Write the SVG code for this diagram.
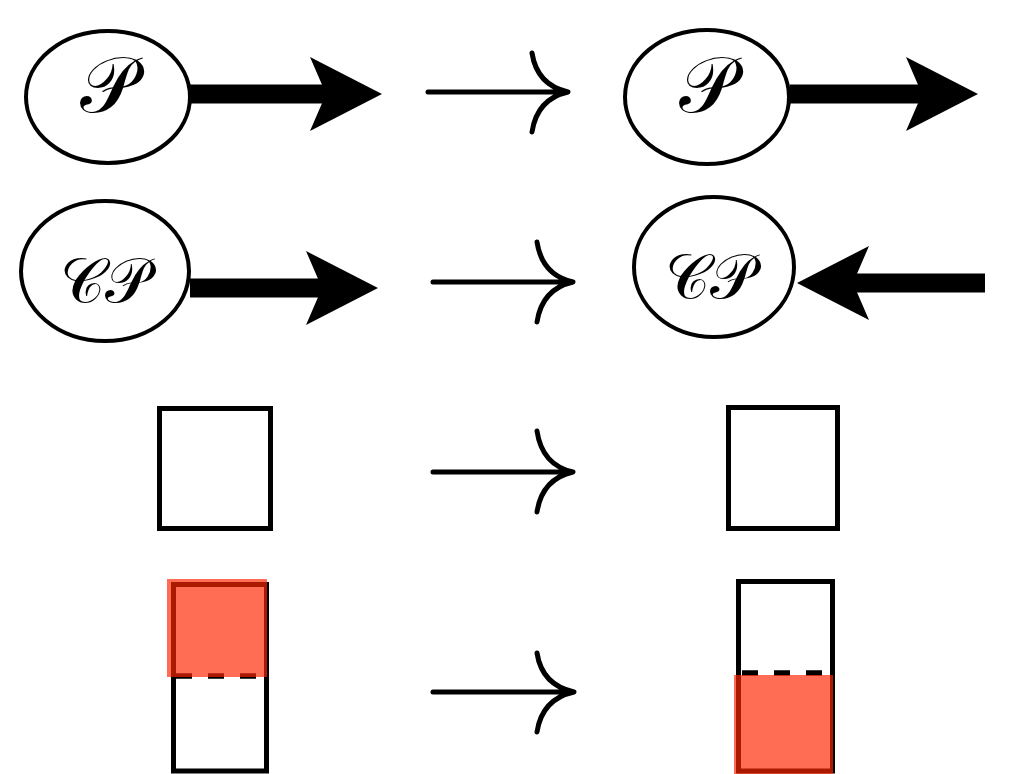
<svg xmlns="http://www.w3.org/2000/svg" width="1009" height="774" viewBox="0 0 1009 774">
<style>
.node{fill:#fff;stroke:#000;stroke-width:4}
.box{fill:#fff;stroke:#000;stroke-width:5}
.dash{fill:none;stroke:#000;stroke-width:5.5;stroke-dasharray:16 16}
.red{fill:#FF2600;fill-opacity:0.67}
.lbl{font-family:"DejaVu Sans","DejaVu Serif","Liberation Serif",serif;fill:#000;text-anchor:middle}
.big{font-size:78px}
.small{font-size:62px}
.thick{fill:none;stroke:#000;stroke-width:19;marker-end:url(#head)}
.thin{fill:none;stroke:#000;stroke-width:5;stroke-linecap:round;stroke-linejoin:round}
</style>
<defs>
<marker id="head" markerUnits="userSpaceOnUse" markerWidth="80" markerHeight="80" refX="0" refY="0" viewBox="-20 -40 80 80" orient="auto" overflow="visible">
<path d="M-16,-37 L56,0 L-16,37 L0,0 Z" fill="#000"/>
</marker>
</defs>
<g id="connectors">
<path class="thick" d="M190,94 H326"/>
<path class="thick" d="M790,94 H922"/>
<path class="thick" d="M190,288 H322"/>
<path class="thick" d="M985,283 H853"/>
<path class="thin" d="M428,92 H566 M532,53 Q537,85 568,92 Q537,99 532,132"/>
<path class="thin" d="M433,282 H571 M537,242 Q542,275 573,282 Q542,289 537,322"/>
<path class="thin" d="M433,472 H571 M537,431 Q542,465 573,472 Q542,479 537,512"/>
<path class="thin" d="M433,692 H572 M537,653 Q542,685 574,692 Q542,699 537,732"/>
</g>
<g id="p-left">
<ellipse class="node" cx="108" cy="97" rx="82" ry="66"/>
<text class="lbl big" x="108" y="112">𝒫</text>
</g>
<g id="p-right">
<ellipse class="node" cx="707" cy="97" rx="82" ry="67"/>
<text class="lbl big" x="707" y="112">𝒫</text>
</g>
<g id="cp-left">
<ellipse class="node" cx="105" cy="271" rx="84" ry="70"/>
<text class="lbl small" x="105" y="302">𝒞𝒫</text>
</g>
<g id="cp-right">
<ellipse class="node" cx="714" cy="267" rx="80" ry="70"/>
<text class="lbl small" x="710" y="298">𝒞𝒫</text>
</g>
<g id="box-left">
<rect class="box" x="159.5" y="408.5" width="111" height="120"/>
</g>
<g id="box-right">
<rect class="box" x="728.5" y="407.5" width="109" height="121"/>
</g>
<g id="split-left">
<rect class="box" x="173.5" y="584.5" width="93" height="186.5"/>
<path class="dash" d="M176,676 H257"/>
<rect class="red" x="167" y="579" width="100" height="98"/>
</g>
<g id="split-right">
<rect class="box" x="738.5" y="581.5" width="94" height="189.5"/>
<path class="dash" d="M742,673 H823"/>
<rect class="red" x="734" y="675" width="99" height="99"/>
</g>
</svg>
